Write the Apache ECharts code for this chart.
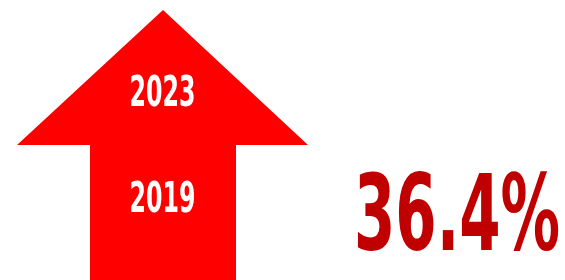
<!DOCTYPE html>
<html>
<head>
<meta charset="UTF-8">
<script src="https://cdn.jsdelivr.net/npm/echarts@6/dist/echarts.min.js"></script>
<style>
  body { margin: 0; background: #fff; }
  #chart { width: 565px; height: 280px; }
</style>
</head>
<body>
<div id="chart"></div>
<script>
// data
const years = ['2019', '2023'];
const growth = 36.4;

const FONT_FAMILY = '"Liberation Sans Narrow", "DejaVu Sans Condensed", "Liberation Sans", sans-serif';

// measure a string so it can be squeezed to the condensed look of the original
const ctx = document.createElement('canvas').getContext('2d');
function squeeze(text, size, target) {
    ctx.font = 'bold ' + size + 'px ' + FONT_FAMILY;
    return target / ctx.measureText(text).width;
}

const chart = echarts.init(document.getElementById('chart'));

const growthText = growth.toFixed(1) + '%';

chart.setOption({
    backgroundColor: '#fff',
    animation: false,
    grid: { left: 17, width: 291, top: 42, height: 212 },
    xAxis: { type: 'category', data: ['up'], show: false },
    yAxis: { type: 'category', data: years, show: false },
    graphic: [
        {
            type: 'polygon',
            z: 0,
            shape: { points: [[163, 10], [308, 145], [236, 145], [236, 285], [90, 285], [90, 145], [17, 145]] },
            style: { fill: '#ff0000' }
        },
        {
            type: 'text',
            x: 354, y: 222,
            scaleX: squeeze(growthText, 106, 206),
            style: {
                text: growthText,
                fill: '#c00000',
                font: 'bold 106px ' + FONT_FAMILY,
                align: 'left',
                verticalAlign: 'middle'
            }
        }
    ],
    series: [{
        type: 'custom',
        z: 10,
        data: years.map(y => [0, y]),
        renderItem: function (params, api) {
            const p = api.coord([api.value(0), api.value(1)]);
            const label = years[params.dataIndex];
            return {
                type: 'text',
                x: p[0], y: p[1],
                scaleX: squeeze(label, 43, 66),
                style: {
                    text: label,
                    fill: '#fff',
                    font: 'bold 43px ' + FONT_FAMILY,
                    align: 'center',
                    verticalAlign: 'middle'
                }
            };
        }
    }]
});
</script>
</body>
</html>
